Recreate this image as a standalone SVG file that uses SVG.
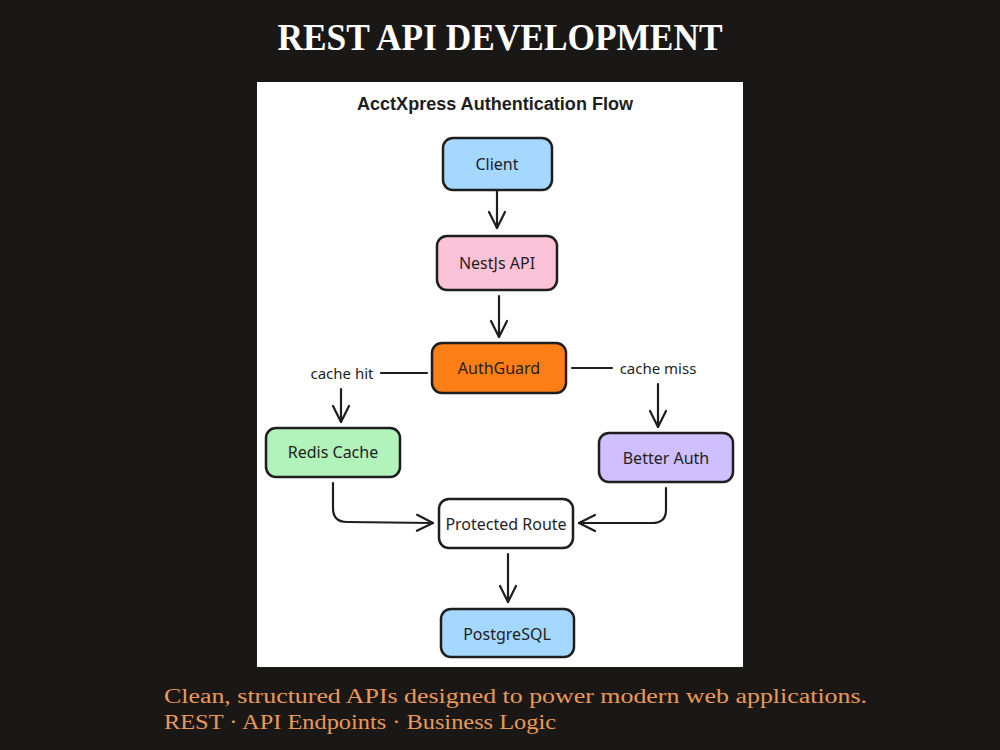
<svg xmlns="http://www.w3.org/2000/svg" width="1000" height="750" viewBox="0 0 1000 750">
<defs>
<marker id="ah" viewBox="0 0 20 20" refX="18" refY="10" markerWidth="20" markerHeight="20" markerUnits="userSpaceOnUse" orient="auto">
<path d="M2,2 L18,10 L2,18" fill="none" stroke="#1e1e1e" stroke-width="2.2" stroke-linecap="round" stroke-linejoin="round"/>
</marker>
<style>
.box{stroke:#1e1e1e;stroke-width:2.5}
.lbl{font-family:"Noto Sans","Open Sans",sans-serif;font-size:16px;fill:#1e1e1e;text-anchor:middle;dominant-baseline:central}
.edge{fill:none;stroke:#1e1e1e;stroke-width:2.2;stroke-linecap:round;stroke-linejoin:round}
.elbl{font-family:"Noto Sans","Open Sans",sans-serif;font-size:15px;fill:#1e1e1e;text-anchor:middle;dominant-baseline:central}
.foot{font-family:"Liberation Serif",serif;font-size:20px;fill:#eb9858}
</style>
</defs>
<rect width="1000" height="750" fill="#1a1817"/>
<text x="500" y="50" font-family="Liberation Serif,serif" font-weight="bold" font-size="38" fill="#ffffff" text-anchor="middle" textLength="445" lengthAdjust="spacingAndGlyphs">REST API DEVELOPMENT</text>
<rect x="257" y="82" width="486" height="585" fill="#ffffff"/>
<text x="495" y="110" font-family="Liberation Sans,sans-serif" font-weight="bold" font-size="18" fill="#1e1e1e" text-anchor="middle" textLength="276" lengthAdjust="spacingAndGlyphs">AcctXpress Authentication Flow</text>

<g id="connectors">
<path class="edge" d="M497,190 L497,228" marker-end="url(#ah)"/>
<path class="edge" d="M499,296 L499,337" marker-end="url(#ah)"/>
<path class="edge" d="M427,373 L381,373"/>
<path class="edge" d="M341,389 L341,422" marker-end="url(#ah)"/>
<path class="edge" d="M572,368 L612,368"/>
<path class="edge" d="M658,384 L658,427" marker-end="url(#ah)"/>
<path class="edge" d="M333,483 L333,508 Q333,522 347,522 L433,523" marker-end="url(#ah)"/>
<path class="edge" d="M666,488 L666,510 Q666,523 652,523 L579,523" marker-end="url(#ah)"/>
<path class="edge" d="M508,554 L508,602" marker-end="url(#ah)"/>
<text class="elbl" x="342" y="373">cache hit</text>
<text class="elbl" x="658" y="368">cache miss</text>
</g>

<g id="client">
<rect class="box" x="443" y="138" width="109" height="52" rx="10" fill="#a5d8ff"/>
<text class="lbl" x="497" y="164">Client</text>
</g>
<g id="nestjs">
<rect class="box" x="437" y="236" width="120" height="54" rx="10" fill="#fcc2d7"/>
<text class="lbl" x="497" y="263">NestJs API</text>
</g>
<g id="authguard">
<rect class="box" x="432" y="343" width="134" height="50" rx="10" fill="#fd7e14"/>
<text class="lbl" x="499" y="368">AuthGuard</text>
</g>
<g id="redis">
<rect class="box" x="266" y="428" width="134" height="49" rx="10" fill="#b2f2bb"/>
<text class="lbl" x="333" y="452">Redis Cache</text>
</g>
<g id="betterauth">
<rect class="box" x="599" y="433" width="134" height="49" rx="10" fill="#d0bfff"/>
<text class="lbl" x="666" y="458">Better Auth</text>
</g>
<g id="protected">
<rect class="box" x="439" y="499" width="134" height="49" rx="10" fill="#ffffff"/>
<text class="lbl" x="506" y="524">Protected Route</text>
</g>
<g id="postgres">
<rect class="box" x="441" y="609" width="133" height="48" rx="10" fill="#a5d8ff"/>
<text class="lbl" x="507" y="634">PostgreSQL</text>
</g>

<text class="foot" x="164" y="703" textLength="703" lengthAdjust="spacingAndGlyphs">Clean, structured APIs designed to power modern web applications.</text>
<text class="foot" x="164" y="729" textLength="392" lengthAdjust="spacingAndGlyphs">REST · API Endpoints · Business Logic</text>
</svg>
